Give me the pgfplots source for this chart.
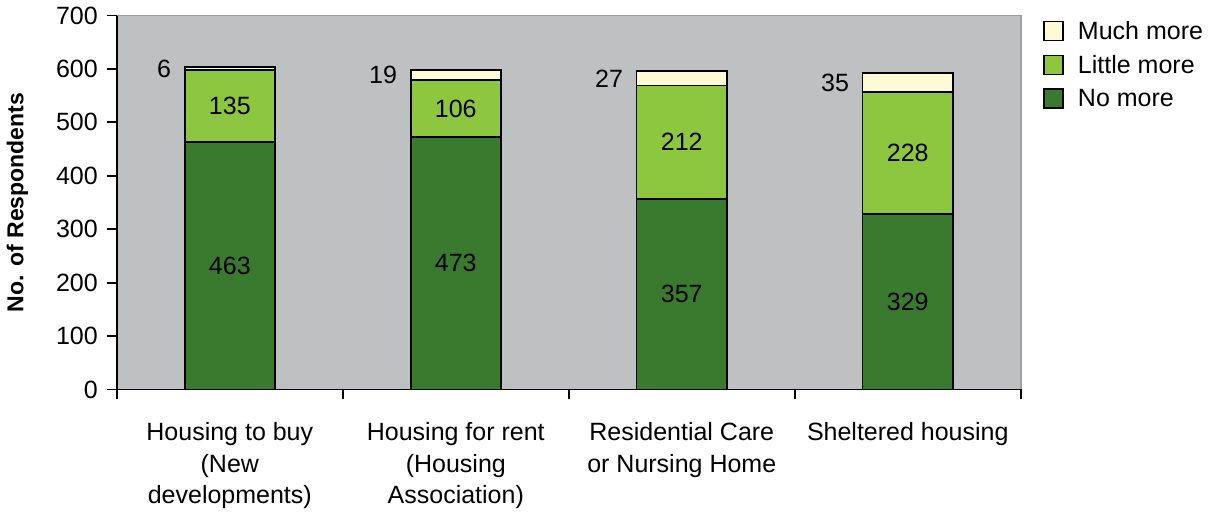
\documentclass[border=0pt]{standalone}
\usepackage{fontspec}
\setmainfont{Liberation Sans}
\usepackage{pgfplots}
\usepackage{pgfplotstable}
\pgfplotsset{compat=1.18}
\definecolor{bggray}{RGB}{191,192,194}
\definecolor{framegray}{RGB}{160,160,160}
\definecolor{nomore}{RGB}{58,122,46}
\definecolor{littlemore}{RGB}{141,198,63}
\definecolor{muchmore}{RGB}{255,250,214}
\pgfplotstableread{
x nomore little much
0 463 135 6
1 473 106 19
2 357 212 27
3 329 228 35
}\data
\begin{document}
\begin{tikzpicture}
\begin{axis}[
  scale only axis, width=452pt, height=187pt,
  ybar stacked, bar width=0.4,
  xmin=-0.5, xmax=3.5, ymin=0, ymax=700,
  ytick={0,100,...,700},
  /pgf/number format/assume math mode=true,
  axis lines=left, axis line style={-, line width=0.9pt},
  axis background/.style={fill=bggray, draw=framegray, line width=0.9pt},
  tick align=outside, tick style={black, line width=0.9pt}, major tick length=5pt,
  tick label style={font=\fontsize{12.5}{15}\selectfont},
  yticklabel style={xshift=-1pt},
  xtick={-0.5,0.5,1.5,2.5,3.5}, xticklabels={},
  extra x ticks={0,1,2,3},
  extra x tick labels={{Housing to buy\\(New\\developments)},{Housing for rent\\(Housing\\Association)},{Residential Care\\or Nursing Home},{Sheltered housing}},
  extra x tick style={major tick length=0pt,
    xticklabel style={align=center, anchor=north, yshift=-13pt, font=\fontsize{12.5}{15.8}\selectfont}},
  ylabel={No. of Respondents},
  every axis y label/.style={at={(axis description cs:-0.11,0.5)}, rotate=90, anchor=center,
    font=\bfseries\fontsize{11.5}{14}\selectfont},
  % in stacked bars the node already sits mid-segment
  nodes near coords,
  every node near coord/.append style={font=\fontsize{12.5}{15}\selectfont, text=black},
  legend style={at={(rel axis cs:1,1)}, anchor=north west, xshift=8pt, yshift=1.5pt,
    draw=none, fill=none, row sep=2.5pt, font=\fontsize{12.5}{15}\selectfont},
  legend cell align=left,
  reverse legend,
  legend image code/.code={\draw[#1, draw=black, line width=0.9pt] (0pt,-4.5pt) rectangle (9.5pt,5pt);
    \path (14.5pt,0pt);},
]
\addplot[fill=nomore, draw=black, line width=0.9pt,
  every node near coord/.append style={anchor=center}]
  table[x=x, y=nomore] {\data};
\addplot[fill=littlemore, draw=black, line width=0.9pt,
  every node near coord/.append style={anchor=center}]
  table[x=x, y=little] {\data};
\addplot[fill=muchmore, draw=black, line width=0.9pt,
  every node near coord/.append style={anchor=east, shift={(axis direction cs:-0.2,0)}, xshift=-3pt}]
  table[x=x, y=much] {\data};
\legend{No more,Little more,Much more}
\end{axis}
\end{tikzpicture}
\end{document}
